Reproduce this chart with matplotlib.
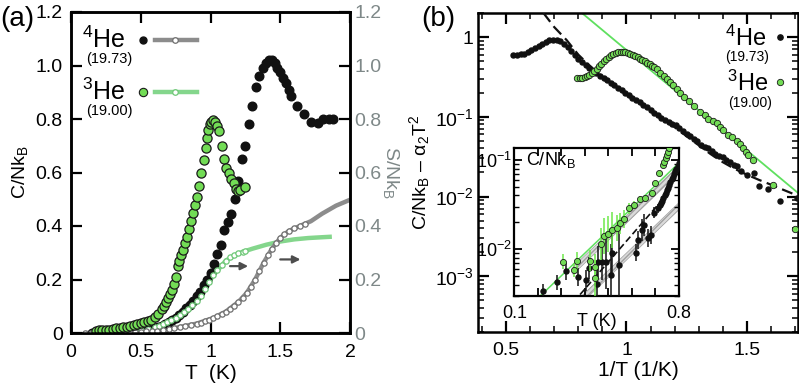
import numpy as np
import matplotlib
matplotlib.use('Agg')
import matplotlib.pyplot as plt
from matplotlib.ticker import FixedLocator, FixedFormatter, LogLocator, NullFormatter, MultipleLocator

plt.rcParams['font.family'] = ['Liberation Sans', 'DejaVu Sans']
plt.rcParams['mathtext.fontset'] = 'custom'
plt.rcParams['mathtext.rm'] = 'Liberation Sans'
plt.rcParams['mathtext.it'] = 'Liberation Sans:italic'

# ---------------- Panel (a): C/NkB and S/NkB vs T ----------------
c4_T = [0.15, 0.20, 0.25, 0.30, 0.35, 0.40, 0.45, 0.50, 0.55, 0.60, 0.625, 0.65, 0.675, 0.70,
        0.725, 0.75, 0.775, 0.80, 0.825, 0.85, 0.875, 0.90, 0.925, 0.95, 0.975, 1.00, 1.025,
        1.05, 1.075, 1.10, 1.125, 1.15, 1.175, 1.20, 1.225, 1.25, 1.275, 1.30, 1.325, 1.35,
        1.375, 1.40, 1.42, 1.44, 1.46, 1.48, 1.50, 1.52, 1.54, 1.56, 1.58, 1.62, 1.67, 1.72,
        1.77, 1.81, 1.85, 1.88]
c4_C = [0.000, 0.001, 0.001, 0.002, 0.002, 0.003, 0.005, 0.008, 0.012, 0.018, 0.022, 0.027,
        0.033, 0.040, 0.048, 0.056, 0.066, 0.080, 0.092, 0.105, 0.120, 0.137, 0.155, 0.178,
        0.200, 0.225, 0.258, 0.295, 0.330, 0.385, 0.415, 0.445, 0.500, 0.570, 0.650, 0.700,
        0.780, 0.850, 0.920, 0.960, 0.990, 1.010, 1.020, 1.020, 1.010, 0.990, 0.975, 0.955,
        0.935, 0.910, 0.885, 0.850, 0.820, 0.790, 0.785, 0.800, 0.800, 0.800]

c3_T = [0.18, 0.20, 0.225, 0.25, 0.275, 0.30, 0.325, 0.35, 0.375, 0.40, 0.425, 0.45, 0.475,
        0.50, 0.525, 0.55, 0.575, 0.60, 0.625, 0.65, 0.665, 0.68, 0.695, 0.71, 0.725, 0.74,
        0.755, 0.765, 0.775, 0.785, 0.80, 0.815, 0.83, 0.845, 0.86, 0.875, 0.89, 0.905, 0.92,
        0.935, 0.95, 0.965, 0.975, 0.985, 0.995, 1.005, 1.015, 1.03, 1.045, 1.06, 1.08, 1.095,
        1.11, 1.13, 1.15, 1.165, 1.18, 1.195, 1.215, 1.25]
c3_C = [0.008, 0.010, 0.011, 0.012, 0.013, 0.015, 0.017, 0.019, 0.021, 0.024, 0.027, 0.031,
        0.034, 0.037, 0.040, 0.044, 0.048, 0.058, 0.072, 0.088, 0.100, 0.115, 0.130, 0.145,
        0.160, 0.185, 0.210, 0.250, 0.270, 0.290, 0.310, 0.335, 0.360, 0.390, 0.420, 0.450,
        0.480, 0.510, 0.550, 0.600, 0.645, 0.690, 0.730, 0.760, 0.780, 0.790, 0.795, 0.790,
        0.775, 0.755, 0.700, 0.650, 0.615, 0.600, 0.575, 0.560, 0.540, 0.530, 0.535, 0.545]

s4_T = [0.10, 0.14, 0.18, 0.22, 0.26, 0.30, 0.34, 0.38, 0.42, 0.46, 0.50, 0.54, 0.58, 0.62,
        0.66, 0.70, 0.74, 0.78, 0.82, 0.86, 0.90, 0.93, 0.96, 0.99, 1.02, 1.05, 1.08, 1.11,
        1.14, 1.17, 1.20, 1.23, 1.26, 1.29, 1.32, 1.35, 1.38, 1.41, 1.44, 1.47, 1.50, 1.53,
        1.56, 1.60, 1.64, 1.68]
s4_S = [0.000, 0.000, 0.001, 0.001, 0.001, 0.002, 0.002, 0.003, 0.003, 0.004, 0.005, 0.006,
        0.007, 0.009, 0.011, 0.014, 0.017, 0.021, 0.025, 0.030, 0.035, 0.039, 0.044, 0.050,
        0.056, 0.063, 0.071, 0.080, 0.090, 0.102, 0.116, 0.132, 0.150, 0.172, 0.200, 0.230,
        0.262, 0.290, 0.315, 0.338, 0.356, 0.370, 0.381, 0.392, 0.400, 0.408]
s4_line_T = [0.10, 0.30, 0.50, 0.70, 0.90, 1.02, 1.11, 1.20, 1.26, 1.32, 1.38, 1.44, 1.50,
             1.56, 1.64, 1.72, 1.80, 1.90, 2.00]
s4_line_S = [0.000, 0.002, 0.005, 0.014, 0.035, 0.056, 0.080, 0.116, 0.150, 0.200, 0.262,
             0.315, 0.356, 0.381, 0.400, 0.418, 0.446, 0.476, 0.498]

s3_T = [0.15, 0.20, 0.25, 0.30, 0.35, 0.40, 0.45, 0.50, 0.55, 0.60, 0.63, 0.66, 0.69, 0.72,
        0.75, 0.78, 0.81, 0.84, 0.87, 0.90, 0.93, 0.96, 0.99, 1.02, 1.05, 1.08, 1.11, 1.14,
        1.17, 1.20, 1.23, 1.25]
s3_S = [0.000, 0.001, 0.002, 0.003, 0.004, 0.006, 0.008, 0.011, 0.015, 0.022, 0.028, 0.034,
        0.041, 0.048, 0.056, 0.066, 0.077, 0.089, 0.103, 0.120, 0.140, 0.165, 0.190, 0.215,
        0.237, 0.256, 0.271, 0.283, 0.292, 0.298, 0.303, 0.305]
s3_line_T = [0.15, 0.40, 0.60, 0.75, 0.90, 1.02, 1.11, 1.20, 1.30, 1.40, 1.50, 1.60, 1.70,
             1.80, 1.87]
s3_line_S = [0.000, 0.006, 0.022, 0.056, 0.120, 0.215, 0.271, 0.298, 0.315, 0.330, 0.342,
             0.350, 0.355, 0.358, 0.360]

arrow1_T = [1.14, 1.27]
arrow2_T = [1.50, 1.645]
arrow_y = [0.25, 0.275]

# ---------------- Panel (b): C/NkB - a2T^2 vs 1/T ----------------
b4_u = [0.53, 0.545, 0.56, 0.575, 0.59, 0.605, 0.62, 0.635, 0.65, 0.665, 0.68, 0.695, 0.71,
        0.725, 0.74, 0.755, 0.77, 0.785, 0.80, 0.815, 0.83, 0.845, 0.86, 0.875, 0.89, 0.905,
        0.92, 0.935, 0.95, 0.965, 0.98, 0.995, 1.01, 1.025, 1.04, 1.055, 1.07, 1.085, 1.10,
        1.115, 1.13, 1.145, 1.16, 1.175, 1.19, 1.205, 1.22, 1.235, 1.25, 1.265, 1.28, 1.295,
        1.31, 1.325, 1.34, 1.355, 1.37, 1.385, 1.40, 1.415, 1.43, 1.445, 1.46, 1.475, 1.50,
        1.53, 1.549, 1.59, 1.638, 1.708]
b4_C = [0.60, 0.60, 0.61, 0.62, 0.645, 0.68, 0.72, 0.77, 0.82, 0.87, 0.905, 0.925, 0.92,
        0.88, 0.82, 0.74, 0.66, 0.59, 0.53, 0.48, 0.44, 0.405, 0.375, 0.35, 0.325, 0.305,
        0.285, 0.265, 0.25, 0.232, 0.215, 0.200, 0.186, 0.174, 0.162, 0.151, 0.141, 0.132,
        0.122, 0.113, 0.104, 0.097, 0.092, 0.087, 0.082, 0.078, 0.072, 0.066, 0.061, 0.058,
        0.053, 0.049, 0.044, 0.042, 0.040, 0.037, 0.034, 0.032, 0.031, 0.029, 0.027, 0.025,
        0.024, 0.021, 0.0187, 0.0195, 0.0136, 0.0126, 0.0089, 0.0095]

b3_u = [0.794, 0.805, 0.815, 0.826, 0.836, 0.846, 0.856, 0.866, 0.876, 0.886, 0.896, 0.906,
        0.916, 0.926, 0.936, 0.946, 0.956, 0.966, 0.976, 0.986, 0.996, 1.006, 1.016, 1.026,
        1.036, 1.046, 1.056, 1.066, 1.076, 1.086, 1.096, 1.106, 1.116, 1.126, 1.14, 1.155,
        1.168, 1.182, 1.195, 1.21, 1.223, 1.24, 1.258, 1.28, 1.306, 1.325, 1.341, 1.36, 1.376,
        1.39, 1.403, 1.424, 1.44, 1.459, 1.473, 1.486, 1.497, 1.507, 1.528, 1.611, 1.70]
b3_C = [0.31, 0.31, 0.31, 0.315, 0.32, 0.335, 0.35, 0.375, 0.40, 0.43, 0.46, 0.495, 0.53,
        0.565, 0.595, 0.62, 0.635, 0.645, 0.65, 0.645, 0.64, 0.63, 0.615, 0.595, 0.575, 0.555,
        0.535, 0.515, 0.495, 0.475, 0.455, 0.435, 0.415, 0.395, 0.355, 0.32, 0.30, 0.275,
        0.25, 0.22, 0.196, 0.175, 0.158, 0.135, 0.115, 0.105, 0.095, 0.088, 0.083, 0.075,
        0.068, 0.059, 0.055, 0.049, 0.045, 0.040, 0.036, 0.033, 0.029, 0.0138, 0.0039]

fit3_u = [0.815, 1.713]
fit3_C = [2.0, 0.0111]
fit4_u = [0.655, 0.70, 0.752, 0.80, 0.85, 0.90, 0.95, 1.00, 1.05, 1.10, 1.15, 1.20, 1.25,
          1.30, 1.35, 1.40, 1.45, 1.50, 1.55, 1.60, 1.65, 1.713]
fit4_C = [2.0, 1.33, 0.91, 0.60, 0.43, 0.318, 0.250, 0.198, 0.156, 0.122, 0.095, 0.074,
          0.057, 0.044, 0.034, 0.027, 0.0222, 0.0188, 0.0162, 0.0141, 0.0122, 0.0102]

# ---------------- Inset: C/NkB vs T ----------------
gi_T = [0.309, 0.355, 0.366, 0.422, 0.444, 0.444, 0.468, 0.483, 0.50, 0.515, 0.536, 0.55,
        0.567, 0.588, 0.611, 0.635, 0.656, 0.685, 0.699, 0.716, 0.734, 0.738, 0.746, 0.751,
        0.756, 0.76, 0.765]
gi_C = [0.00726, 0.00586, 0.00745, 0.00745, 0.0063, 0.00473, 0.01138, 0.0141, 0.0148,
        0.0164, 0.0172, 0.0195, 0.0218, 0.0288, 0.0313, 0.0363, 0.0372, 0.043, 0.055, 0.071,
        0.088, 0.0957, 0.1045, 0.1138, 0.124, 0.135, 0.150]
gi_err = [0.08, 0.08, 0.10, 0.12, 0.15, 0.20, 0.18, 0.20, 0.20, 0.20, 0.15, 0.12, 0.10,
          0.06, 0.05, 0.04, 0.03, 0.03, 0.02, 0.02, 0.01, 0.01, 0.01, 0.01, 0.01, 0.01, 0.01]

bi_T = [0.221, 0.283, 0.32, 0.372, 0.405, 0.419, 0.451, 0.458, 0.472, 0.489, 0.512, 0.517,
        0.547, 0.617, 0.628, 0.642, 0.653, 0.67, 0.681, 0.696, 0.71, 0.72, 0.725, 0.73, 0.735,
        0.74, 0.745, 0.75, 0.755, 0.76, 0.765, 0.77, 0.775, 0.78, 0.785, 0.79, 0.795, 0.80]
bi_C = [0.00335, 0.00423, 0.00562, 0.00485, 0.00446, 0.00612, 0.00408, 0.00708, 0.00715,
        0.00708, 0.00515, 0.00916, 0.00656, 0.00916, 0.0127, 0.0164, 0.0187, 0.0133, 0.0145,
        0.0257, 0.0288, 0.0316, 0.033, 0.035, 0.037, 0.040, 0.043, 0.046, 0.049, 0.053,
        0.057, 0.061, 0.065, 0.070, 0.075, 0.080, 0.086, 0.092]
bi_err = [0.08, 0.08, 0.10, 0.10, 0.12, 0.12, 0.20, 0.18, 0.20, 0.30, 0.35, 0.25, 0.40, 0.10,
          0.10, 0.12, 0.12, 0.10, 0.10, 0.06, 0.05, 0.04, 0.04, 0.03, 0.03, 0.03, 0.02, 0.02,
          0.02, 0.02, 0.02, 0.02, 0.02, 0.02, 0.02, 0.02, 0.02, 0.02]

ins_g_T = [0.20, 0.80]
ins_g_C = [0.0028, 0.0923]
band1_T = [0.35, 0.80]
band1_hi = [0.00630, 0.0866]
band1_lo = [0.00520, 0.0715]
band2_T = [0.35, 0.80]
band2_hi = [0.00240, 0.0330]
band2_lo = [0.00200, 0.0275]
ins_d_T = [0.38, 0.706]
ins_d_C = [0.00309, 0.0302]

# ---------------- styling ----------------
BLACK = '#111111'
GREEN = '#72dc55'
GREEN_S = '#84d68c'
GRAY = '#8c8c8c'
GRAY_TXT = '#7e8888'
GREEN_FIT = '#5fe05f'
W, H = 799, 390

fig = plt.figure(figsize=(W / 100, H / 100), dpi=100)


def box(l, t, r, b):
    return [l / W, (H - b) / H, (r - l) / W, (b - t) / H]


axA = fig.add_axes(box(71, 12, 350, 333))
axA2 = axA.twinx()
axB = fig.add_axes(box(478, 13, 798, 332))
axI = fig.add_axes(box(514.3, 147.7, 678.7, 295.7))

# ----- panel (a) -----
axA.plot(s3_line_T, s3_line_S, color=GREEN_S, lw=3.2, zorder=2, solid_capstyle='butt')
axA.plot(s4_line_T, s4_line_S, color=GRAY, lw=3.2, zorder=2, solid_capstyle='butt')
axA.plot(c4_T, c4_C, 'o', ms=6.2, color=BLACK, mec=BLACK, zorder=3)
axA.plot(s3_T, s3_S, 'o', ms=3.8, mfc='white', mec='#6fc878', mew=0.9, zorder=4)
axA.plot(s4_T, s4_S, 'o', ms=3.8, mfc='white', mec='#6f6f6f', mew=0.9, zorder=4)
axA.plot(c3_T, c3_C, 'o', ms=6.6, mfc=GREEN, mec='#1a1a1a', mew=0.9, zorder=5)
for tx, ty in zip([arrow1_T, arrow2_T], arrow_y):
    axA.annotate('', xy=(tx[1], ty), xytext=(tx[0], ty),
                 arrowprops=dict(arrowstyle='-|>', color='#4d4d4d', lw=1.6,
                                 mutation_scale=11, shrinkA=0, shrinkB=0), zorder=6)

axA.set_xlim(0, 2)
axA.set_ylim(0, 1.2)
axA2.set_ylim(0, 1.2)
axA.set_xticks([0, 0.5, 1, 1.5, 2])
axA.set_xticklabels(['0', '0.5', '1', '1.5', '2'])
yt = [0, 0.2, 0.4, 0.6, 0.8, 1.0, 1.2]
ytl = ['0', '0.2', '0.4', '0.6', '0.8', '1.0', '1.2']
axA.set_yticks(yt)
axA.set_yticklabels(ytl)
axA2.set_yticks(yt)
axA2.set_yticklabels(ytl)
axA.tick_params(axis='x', direction='in', length=8, width=1.6, labelsize=14, pad=8, top=True)
axA.tick_params(axis='y', direction='in', length=8, width=1.6, labelsize=14, pad=6, right=False)
axA2.tick_params(axis='y', direction='in', length=8, width=1.6, labelsize=14, pad=3,
                 labelcolor=GRAY_TXT)
for ax in (axA, axA2):
    for s in ax.spines.values():
        s.set_linewidth(1.8)
axA.set_xlabel('T  (K)', fontsize=15, labelpad=2)
axA.set_ylabel(r'C/Nk$_\mathregular{B}$', fontsize=14, labelpad=4)
axA2.set_ylabel(r'S/Nk$_\mathregular{B}$', fontsize=14, color=GRAY_TXT, rotation=270,
                labelpad=14)

# legend (a)
tA = axA.transAxes
axA.text(0.040, 0.888, r'$^\mathregular{4}$He', fontsize=18, transform=tA, va='baseline')
axA.text(0.055, 0.842, '(19.73)', fontsize=10.5, transform=tA, va='baseline')
axA.text(0.040, 0.727, r'$^\mathregular{3}$He', fontsize=18, transform=tA, va='baseline')
axA.text(0.055, 0.680, '(19.00)', fontsize=10.5, transform=tA, va='baseline')
axA.plot([0.257], [0.912], 'o', ms=5, color=BLACK, transform=tA, clip_on=False)
axA.plot([0.301, 0.452], [0.912, 0.912], color=GRAY, lw=3.2, transform=tA, clip_on=False)
axA.plot([0.373], [0.912], 'o', ms=4, mfc='white', mec='#6f6f6f', mew=0.9, transform=tA,
         clip_on=False)
axA.plot([0.257], [0.751], 'o', ms=6, mfc=GREEN, mec='#1a1a1a', mew=0.8, transform=tA,
         clip_on=False)
axA.plot([0.301, 0.452], [0.751, 0.751], color=GREEN_S, lw=3.2, transform=tA, clip_on=False)
axA.plot([0.373], [0.751], 'o', ms=4, mfc='white', mec='#6fc878', mew=0.9, transform=tA,
         clip_on=False)

# ----- panel (b) -----
axB.set_yscale('log')
axB.plot(fit3_u, fit3_C, color=GREEN_FIT, lw=1.3, zorder=2)
axB.plot(b4_u, b4_C, 'o', ms=3.6, color=BLACK, mec=BLACK, zorder=3)
axB.plot(fit4_u, fit4_C, color=BLACK, lw=1.6, dashes=(5, 2.5), zorder=4)
axB.plot(b3_u, b3_C, 'o', ms=4.6, mfc=GREEN, mec='#1a1a1a', mew=0.6, zorder=5)
axB.set_xlim(0.383, 1.713)
axB.set_ylim(2e-4, 2)
axB.xaxis.set_major_locator(FixedLocator([0.5, 1.0, 1.5]))
axB.xaxis.set_major_formatter(FixedFormatter(['0.5', '1', '1.5']))
axB.xaxis.set_minor_locator(MultipleLocator(0.1))
axB.yaxis.set_major_locator(FixedLocator([1e-3, 1e-2, 1e-1, 1]))
axB.yaxis.set_major_formatter(FixedFormatter([r'$\mathregular{10^{-3}}$',
                                              r'$\mathregular{10^{-2}}$',
                                              r'$\mathregular{10^{-1}}$', '1']))
axB.yaxis.set_minor_locator(LogLocator(base=10, subs=np.arange(2, 10), numticks=20))
axB.yaxis.set_minor_formatter(NullFormatter())
axB.tick_params(which='major', direction='in', length=8, width=1.6, labelsize=14,
                top=True, right=True)
axB.tick_params(axis='x', which='major', pad=7)
axB.tick_params(axis='y', which='major', pad=3)
axB.tick_params(which='minor', direction='in', length=4, width=1.1, top=True, right=True)
for s in axB.spines.values():
    s.set_linewidth(1.8)
axB.set_xlabel('1/T (1/K)', fontsize=15, labelpad=2)
axB.set_ylabel(r'C/Nk$_\mathregular{B}$ – α$_\mathregular{2}$T$^\mathregular{2}$',
               fontsize=14, labelpad=2)

tB = axB.transAxes
axB.text(0.902, 0.896, r'$^\mathregular{4}$He', fontsize=17, transform=tB, va='baseline',
         ha='right')
axB.text(0.840, 0.848, '(19.73)', fontsize=10, transform=tB, va='baseline', ha='center')
axB.text(0.907, 0.755, r'$^\mathregular{3}$He', fontsize=17, transform=tB, va='baseline',
         ha='right')
axB.text(0.850, 0.704, '(19.00)', fontsize=10, transform=tB, va='baseline', ha='center')
axB.plot([0.943], [0.926], 'o', ms=3.8, color=BLACK, transform=tB, clip_on=False)
axB.plot([0.943], [0.785], 'o', ms=4.6, mfc=GREEN, mec='#1a1a1a', mew=0.6, transform=tB,
         clip_on=False)

# ----- inset -----
axI.set_yscale('log')
axI.fill_between(band1_T, band1_lo, band1_hi, facecolor='#dadada', edgecolor='#a0a0a0',
                 hatch='//////', lw=0.5, zorder=1)
axI.fill_between(band2_T, band2_lo, band2_hi, facecolor='#dadada', edgecolor='#a0a0a0',
                 hatch='//////', lw=0.5, zorder=1)
axI.plot(ins_g_T, ins_g_C, color=GREEN_FIT, lw=1.1, zorder=2)
axI.plot(ins_d_T, ins_d_C, color=BLACK, lw=1.2, dashes=(4, 2), zorder=2)

g_C = np.array(gi_C)
g_e = np.array(gi_err)
axI.errorbar(gi_T, gi_C, yerr=[g_C * (1 - 10 ** -g_e), g_C * (10 ** g_e - 1)], fmt='o',
             ms=4.4, mfc=GREEN, mec='#1a1a1a', mew=0.6, ecolor='#6ee84a', elinewidth=1.1,
             capsize=0, zorder=4)
b_C = np.array(bi_C)
b_e = np.array(bi_err)
axI.errorbar(bi_T, bi_C, yerr=[b_C * (1 - 10 ** -b_e), b_C * (10 ** b_e - 1)], fmt='o',
             ms=3.6, color=BLACK, mec=BLACK, ecolor=BLACK, elinewidth=1.1, capsize=0,
             zorder=3)
axI.set_xlim(0.1, 0.8)
axI.set_ylim(0.0030, 0.1375)
axI.xaxis.set_major_locator(FixedLocator([0.1, 0.2, 0.3, 0.4, 0.5, 0.6, 0.7, 0.8]))
axI.xaxis.set_major_formatter(FixedFormatter(['0.1', '', '', '', '', '', '', '0.8']))
axI.yaxis.set_major_locator(FixedLocator([1e-2, 1e-1]))
axI.yaxis.set_major_formatter(FixedFormatter([r'$\mathregular{10^{-2}}$',
                                              r'$\mathregular{10^{-1}}$']))
axI.yaxis.set_minor_locator(LogLocator(base=10, subs=np.arange(2, 10), numticks=20))
axI.yaxis.set_minor_formatter(NullFormatter())
axI.tick_params(which='major', direction='in', length=6, width=1.3, labelsize=13,
                top=True, right=True)
axI.tick_params(axis='x', which='major', pad=7)
axI.tick_params(axis='y', which='major', pad=2)
axI.tick_params(which='minor', direction='in', length=3.5, width=1.0, top=False, right=True)
for s in axI.spines.values():
    s.set_linewidth(1.6)
axI.text(0.5, -0.115, 'T (K)', fontsize=13, transform=axI.transAxes, ha='center', va='top')
axI.text(0.07, 0.915, r'C/Nk$_\mathregular{B}$', fontsize=13, transform=axI.transAxes,
         ha='left', va='center')

fig.text(0 / W, 1 - 19 / H, '(a)', fontsize=20, va='center', ha='left')
fig.text(421 / W, 1 - 19 / H, '(b)', fontsize=20, va='center', ha='left')

fig.savefig('out.png', dpi=100)
